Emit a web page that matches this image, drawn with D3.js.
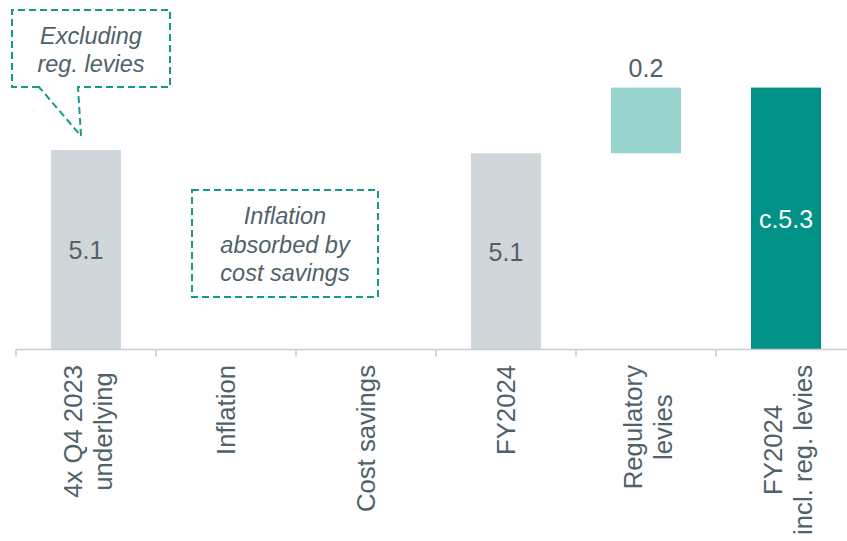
<!DOCTYPE html>
<html>
<head>
<meta charset="utf-8">
<script src="https://cdn.jsdelivr.net/npm/d3@7"></script>
<style>
  html, body { margin: 0; padding: 0; background: #ffffff; }
  svg { display: block; }
  text { font-family: "Liberation Sans", Arial, sans-serif; }
</style>
</head>
<body>
<svg id="chart" width="847" height="541"></svg>
<script>
// ---- data ----
const categories = ["4x Q4 2023 underlying", "Inflation", "Cost savings", "FY2024", "Regulatory levies", "FY2024 incl. reg. levies"];
const categoryLines = [["4x Q4 2023", "underlying"], ["Inflation"], ["Cost savings"], ["FY2024"], ["Regulatory", "levies"], ["FY2024", "incl. reg. levies"]];
const values = [5.11, 0, 0, 5.10, 0.2, 5.30];
const kinds = ["total", "delta", "delta", "total", "delta", "total"];
const valueLabels = ["5.1", "", "", "5.1", "0.2", "c.5.3"];
const yDomain = [4.5, 5.5];

// ---- styles ----
const textColor = "#4f626a";
const barColors = { total: "#cfd7da", delta: "#96d3cc", final: "#009286" };
const dashColor = "#16998a";

const svg = d3.select("#chart");
const x = d3.scaleBand().domain(categories).range([16, 856]).paddingInner(0.5).paddingOuter(0.25);
const y = d3.scaleLinear().domain(yDomain).range([350, 22]);
const step = x.step();

// compute waterfall segments
let running = yDomain[0];
const segs = values.map((v, i) => {
  let lo, hi;
  if (kinds[i] === "total") { lo = yDomain[0]; hi = v; running = v; }
  else { lo = running; hi = running + v; running = hi; }
  return { cat: categories[i], lo, hi, v, kind: kinds[i], label: valueLabels[i], i };
});

const barFill = d => d.i === categories.length - 1 ? barColors.final : (d.kind === "total" ? barColors.total : barColors.delta);

svg.append("g").selectAll("rect")
  .data(segs.filter(d => d.hi !== d.lo))
  .join("rect")
  .attr("x", d => x(d.cat))
  .attr("width", x.bandwidth())
  .attr("y", d => y(Math.max(d.lo, d.hi)))
  .attr("height", d => Math.abs(y(d.lo) - y(d.hi)))
  .attr("fill", barFill);

// value labels
svg.append("g").selectAll("text")
  .data(segs.filter(d => d.label))
  .join("text")
  .attr("x", d => x(d.cat) + x.bandwidth() / 2)
  .attr("y", d => d.kind === "delta" ? y(d.hi) - 11 : (y(d.lo) + y(d.hi)) / 2 + 9)
  .attr("text-anchor", "middle")
  .attr("font-size", 25)
  .attr("fill", d => d.i === categories.length - 1 ? "#ffffff" : textColor)
  .text(d => d.label);

// axis line and boundary ticks
const axisY = 349.5;
const axisColor = "#c6ced2";
const ax = svg.append("g");
ax.append("line").attr("x1", 16).attr("x2", 847).attr("y1", axisY).attr("y2", axisY)
  .attr("stroke", axisColor).attr("stroke-width", 1.6);
const bounds = categories.map(c => x(c) - step * 0.25).concat([x.range()[1]]);
ax.selectAll("line.tick").data(bounds).join("line").attr("class", "tick")
  .attr("x1", d => d).attr("x2", d => d).attr("y1", axisY).attr("y2", axisY + 7)
  .attr("stroke", axisColor).attr("stroke-width", 1.6);

// category labels (rotated)
const labG = svg.append("g");
categoryLines.forEach((lines, i) => {
  const cx = x(categories[i]) + x.bandwidth() / 2;
  const g = labG.append("g");
  const t = g.append("text")
    .attr("text-anchor", "middle")
    .attr("font-size", 25.7)
    .attr("fill", textColor);
  const offs = lines.length === 1 ? [9] : [-4.5, 26];
  lines.forEach((ln, j) => {
    t.append("tspan").attr("x", 0).attr("y", offs[j]).text(ln);
  });
  let maxW = 0;
  t.selectAll("tspan").each(function() { maxW = Math.max(maxW, this.getComputedTextLength()); });
  const cy = 365 + maxW / 2;
  g.attr("transform", `translate(${cx},${cy}) rotate(-90)`);
});

// ---- callouts ----
const calloutFont = 23.5;
// callout 1: speech bubble pointing at first bar
const b1 = { x0: 12, y0: 10, x1: 170, y1: 87 };
const tipX = x(categories[0]) + 30, tipY = y(values[0]) - 14;
const p = d3.path();
p.moveTo(39, b1.y1);
p.lineTo(b1.x0, b1.y1);
p.lineTo(b1.x0, b1.y0);
p.lineTo(b1.x1, b1.y0);
p.lineTo(b1.x1, b1.y1);
p.lineTo(78, b1.y1);
p.lineTo(tipX, tipY);
p.closePath();
svg.append("path").attr("d", p.toString())
  .attr("fill", "none").attr("stroke", dashColor).attr("stroke-width", 2)
  .attr("stroke-dasharray", "7,4");
const t1 = svg.append("text").attr("text-anchor", "middle").attr("font-size", calloutFont)
  .attr("font-style", "italic").attr("fill", textColor);
t1.append("tspan").attr("x", 91).attr("y", 44).text("Excluding");
t1.append("tspan").attr("x", 91).attr("y", 72).text("reg. levies");

// callout 2: box between inflation and cost savings
svg.append("rect").attr("x", 192).attr("y", 190).attr("width", 186).attr("height", 107)
  .attr("fill", "none").attr("stroke", dashColor).attr("stroke-width", 2)
  .attr("stroke-dasharray", "7,4");
const t2 = svg.append("text").attr("text-anchor", "middle").attr("font-size", calloutFont)
  .attr("font-style", "italic").attr("fill", textColor);
["Inflation", "absorbed by", "cost savings"].forEach((s, j) => {
  t2.append("tspan").attr("x", 285).attr("y", 224 + j * 28.5).text(s);
});
</script>
</body>
</html>
